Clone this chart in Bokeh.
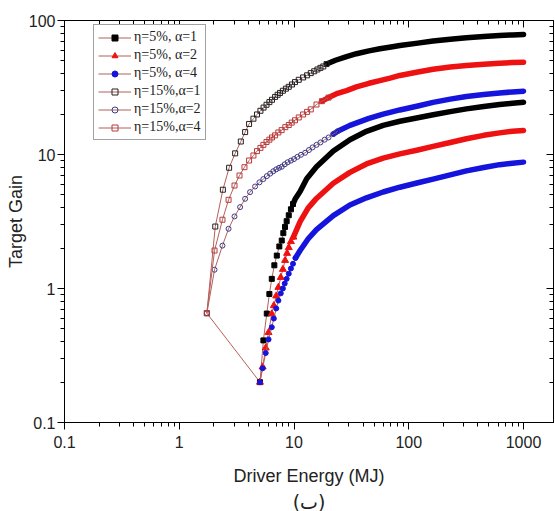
from bokeh.plotting import figure
from bokeh.models import LogAxis, FixedTicker, Legend, LegendItem, Title
from bokeh.embed import file_html
from bokeh.resources import INLINE

# ---------------- data ----------------
x_ticks = [0.1, 1, 10, 100, 1000]
x_tick_labels = ["0.1", "1", "10", "100", "1000"]
y_ticks = [0.1, 1, 10, 100]
y_tick_labels = ["0.1", "1", "10", "100"]

series_labels = ["η=5%, α=1", "η=5%, α=2", "η=5%, α=4",
                 "η=15%,α=1", "η=15%,α=2", "η=15%,α=4"]

# η=5%, α=1  (separate points at low energy, dense band at high energy)
e5a1_pts = [5.05, 5.41, 5.79, 6.1, 6.4, 6.74, 7.08, 7.45, 7.82, 8.07, 8.35, 8.63, 9.0, 9.4, 9.8]
g5a1_pts = [0.2, 0.41, 0.65, 0.91, 1.18, 1.49, 1.76, 2.06, 2.28, 2.59, 2.88, 3.18, 3.52, 3.9, 4.27]
e5a1_band = [9.8, 10.3, 11.3, 12.9, 15.7, 22, 30.7, 42.8, 59.8, 83.6, 120, 163, 230, 318, 450, 619, 800, 1000]
g5a1_band = [4.27, 4.7, 5.3, 6.6, 8.1, 10.6, 12.9, 14.9, 16.5, 17.7, 18.8, 19.8, 20.9, 21.9, 22.8, 23.6, 24.1, 24.5]

# η=5%, α=2
e5a2_pts = [5.05, 5.33, 5.67, 6.0, 6.4, 6.67, 7.0, 7.31, 7.67, 8.0, 8.36, 8.7, 9.0, 9.4, 9.87]
g5a2_pts = [0.2, 0.26, 0.36, 0.47, 0.647, 0.745, 0.88, 1.02, 1.21, 1.39, 1.62, 1.83, 2.02, 2.24, 2.42]
e5a2_band = [9.87, 11.3, 13.3, 15.7, 22, 30.7, 42.8, 59.8, 83.6, 120, 163, 230, 318, 450, 619, 800, 1000]
g5a2_band = [2.42, 3.15, 4.0, 4.7, 6.1, 7.35, 8.5, 9.4, 10.1, 10.8, 11.5, 12.3, 13.1, 13.9, 14.5, 14.9, 15.1]

# η=5%, α=4
e5a4_pts = [5.05, 5.33, 5.67, 6.0, 6.4, 6.67, 7.0, 7.31, 7.67, 8.0, 8.3, 8.63, 9.0, 9.4, 9.8, 10.3]
g5a4_pts = [0.2, 0.254, 0.33, 0.417, 0.514, 0.597, 0.71, 0.813, 0.92, 1.0, 1.09, 1.18, 1.29, 1.41, 1.53, 1.69]
e5a4_band = [10.3, 11.3, 13.3, 15.7, 22, 30.7, 42.8, 59.8, 83.6, 120, 163, 230, 318, 450, 619, 800, 1000]
g5a4_band = [1.69, 1.92, 2.35, 2.75, 3.5, 4.2, 4.75, 5.25, 5.7, 6.15, 6.55, 7.05, 7.55, 8.0, 8.4, 8.6, 8.77]

# η=15%, α=1
e15a1_pts = [1.74, 2.06, 2.40, 2.72, 3.07, 3.44, 3.75, 4.06, 4.43, 4.76, 5.1, 5.43, 5.76, 6.1,
             6.43, 6.84, 7.2, 7.55, 8.0, 8.5, 9.0, 9.6, 10.2, 11.0, 12.0, 13.0, 14.0, 15.0,
             16.0, 17.0, 18.0, 19.2]
g15a1_pts = [0.654, 2.90, 5.46, 7.96, 10.2, 12.5, 14.7, 16.9, 18.5, 19.9, 21.2, 22.4, 23.5, 24.6,
             25.6, 26.9, 27.9, 28.8, 29.9, 31.0, 32.0, 33.3, 34.7, 36.1, 37.6, 39.0, 40.5, 41.8,
             43.1, 44.3, 45.4, 47.3]
e15a1_band = [19.2, 23.0, 28.7, 35, 45, 56, 70, 83.6, 120, 163, 230, 318, 450, 619, 800, 1000]
g15a1_band = [47.3, 50.5, 53.8, 56.5, 59.3, 61.5, 63.5, 65.0, 67.8, 70.2, 72.5, 74.3, 76.0, 77.3, 78.1, 78.7]

# η=15%, α=2 (circles)
e15a2_pts = [1.74, 2.03, 2.38, 2.69, 3.03, 3.39, 3.75, 4.14, 4.58, 5.0, 5.4, 5.8, 6.2, 6.6, 7.0,
             7.4, 7.82, 8.3, 8.8, 9.4, 10.0, 10.7, 11.5, 12.5, 13.5, 14.5, 15.7, 17, 18.5, 20, 22, 24]
g15a2_pts = [0.654, 1.38, 2.09, 2.79, 3.45, 4.05, 4.67, 5.24, 5.77, 6.2, 6.55, 6.9, 7.2, 7.5, 7.75,
             7.95, 8.1, 8.45, 8.75, 9.0, 9.25, 9.6, 9.95, 10.3, 10.8, 11.3, 11.8, 12.3, 12.9, 13.4, 14.2, 14.9]
e15a2_band = [22, 24, 30.7, 45, 59.8, 83.6, 120, 163, 230, 318, 450, 619, 800, 1000]
g15a2_band = [14.2, 14.9, 16.5, 18.6, 20.0, 21.5, 23.0, 24.5, 25.9, 27.1, 28.0, 28.8, 29.3, 29.7]

# η=15%, α=4 (squares)
e15a4_pts = [1.74, 2.03, 2.38, 2.69, 3.03, 3.35, 3.70, 4.06, 4.43, 4.76, 5.1, 5.41, 5.76, 6.1,
             6.43, 6.84, 7.3, 7.8, 8.4, 9.0, 9.55, 10.2, 11.0, 12.0, 13.0, 14.0, 15.7, 17.5, 20.0]
g15a4_pts = [0.654, 1.92, 3.26, 4.59, 5.87, 6.97, 8.04, 9.02, 9.83, 10.6, 11.2, 11.8, 12.4, 12.9,
             13.4, 13.9, 14.6, 15.2, 16.0, 16.6, 17.3, 18.0, 18.9, 19.9, 20.8, 21.7, 23.6, 25.0, 26.6]
e15a4_band = [17.5, 20, 24, 28.7, 35, 45, 56, 70, 83.6, 120, 163, 230, 318, 450, 619, 800, 1000]
g15a4_band = [25.0, 26.6, 28.6, 30.0, 32.0, 34.0, 35.6, 37.3, 38.9, 41.3, 43.3, 45.0, 46.2, 47.2, 48.0, 48.5, 48.9]

# ---------------- figure ----------------
FRAME_W = 489
FRAME_H = 402

p = figure(frame_width=FRAME_W, frame_height=FRAME_H, x_axis_type="log", y_axis_type="log",
           x_range=(0.1, 1825), y_range=(0.1, 100),
           output_backend="svg", toolbar_location=None,
           min_border_left=64, min_border_right=2, min_border_top=20, min_border_bottom=86)
p.xgrid.visible = False
p.ygrid.visible = False
p.outline_line_color = "black"
p.outline_line_width = 1
p.background_fill_color = "white"
p.border_fill_color = "white"

x_minor = [m * 10.0 ** k for k in range(-1, 4) for m in range(2, 10)]
y_minor = [m * 10.0 ** k for k in range(-1, 2) for m in range(2, 10)]

FONT = "Liberation Sans"

def style_axis(ax, ticks, minor, labels, outward=True):
    ax.ticker = FixedTicker(ticks=ticks, minor_ticks=minor)
    ax.major_label_overrides = {t: s for t, s in zip(ticks, labels)}
    ax.axis_line_color = "black"
    ax.axis_line_width = 1
    ax.major_tick_line_color = "black"
    ax.minor_tick_line_color = "black"
    if outward:
        ax.major_tick_out, ax.major_tick_in = 7, 0
        ax.minor_tick_out, ax.minor_tick_in = 4, 0
    else:
        ax.major_tick_out, ax.major_tick_in = 0, 7
        ax.minor_tick_out, ax.minor_tick_in = 0, 4
    ax.major_label_text_font = FONT
    ax.major_label_text_font_size = "16px"
    ax.major_label_text_color = "#222222"

xa = p.xaxis[0]
ya = p.yaxis[0]
style_axis(xa, x_ticks, x_minor, x_tick_labels)
style_axis(ya, y_ticks, y_minor, y_tick_labels)
xa.axis_label = "Driver Energy (MJ)"
ya.axis_label = "Target Gain"
for ax in (xa, ya):
    ax.axis_label_text_font = FONT
    ax.axis_label_text_font_size = "18px"
    ax.axis_label_text_font_style = "normal"
    ax.axis_label_text_color = "#222222"
xa.major_label_standoff = 6
xa.axis_label_standoff = 15
ya.major_label_standoff = 2
ya.axis_label_standoff = 0

# mirrored axes without labels (ticks pointing inward)
top_ax = LogAxis()
style_axis(top_ax, x_ticks, x_minor, ["" for _ in x_ticks], outward=False)
top_ax.major_label_standoff = 0
p.add_layout(top_ax, "above")
right_ax = LogAxis()
style_axis(right_ax, y_ticks, y_minor, ["" for _ in y_ticks], outward=False)
right_ax.major_label_standoff = 0
p.add_layout(right_ax, "right")

cap = Title(text="(ب)", align="center", text_font="DejaVu Sans",
            text_font_size="19px", text_font_style="normal", text_color="#222222")
cap.standoff = 0
cap.offset = 0
p.add_layout(cap, "below")

LINK = "#b4605a"

# line from the first point of the η=15% curves to the first point of the η=5% curves
p.line([e15a4_pts[0], e5a1_pts[0]], [g15a4_pts[0], g5a1_pts[0]], color=LINK, line_width=1)

specs = [
    (e5a1_pts, g5a1_pts, e5a1_band, g5a1_band, "square", 5, "black", "black", "black"),
    (e5a2_pts, g5a2_pts, e5a2_band, g5a2_band, "triangle", 7, "#ee1111", "#ee1111", "#ee1111"),
    (e5a4_pts, g5a4_pts, e5a4_band, g5a4_band, "circle", 5, "#1414dd", "#1414dd", "#1414dd"),
    (e15a1_pts, g15a1_pts, e15a1_band, g15a1_band, "square", 5, None, "#222222", "black"),
    (e15a2_pts, g15a2_pts, e15a2_band, g15a2_band, "circle", 5, None, "#3a3a8c", "#1414dd"),
    (e15a4_pts, g15a4_pts, e15a4_band, g15a4_band, "square", 5, None, "#b83a3a", "#ee1111"),
]

items = []
for (ex, gx, eb, gb, mk, sz, fill, mline, bandc), lab in zip(specs, series_labels):
    p.line(eb, gb, color=bandc, line_width=5.5, line_cap="round", line_join="round")
    ln = p.line(ex, gx, color=LINK, line_width=1)
    sc = p.scatter(ex, gx, marker=mk, size=sz, fill_color=fill, line_color=mline, line_width=1)
    items.append(LegendItem(label=lab, renderers=[ln, sc]))

LEG_H = 112
legend = Legend(items=items, location=(29, FRAME_H - 8 - LEG_H))
legend.label_text_font = "Liberation Serif"
legend.label_text_font_size = "14px"
legend.label_text_color = "#222222"
legend.glyph_width = 33
legend.glyph_height = 15
legend.label_height = 15
legend.label_standoff = 3
legend.spacing = 2
legend.padding = 4
legend.margin = 0
legend.border_line_color = "#444444"
legend.border_line_width = 1
legend.background_fill_color = "white"
legend.background_fill_alpha = 1.0
p.add_layout(legend, "center")

open("out.html", "w").write(file_html(p, INLINE))
